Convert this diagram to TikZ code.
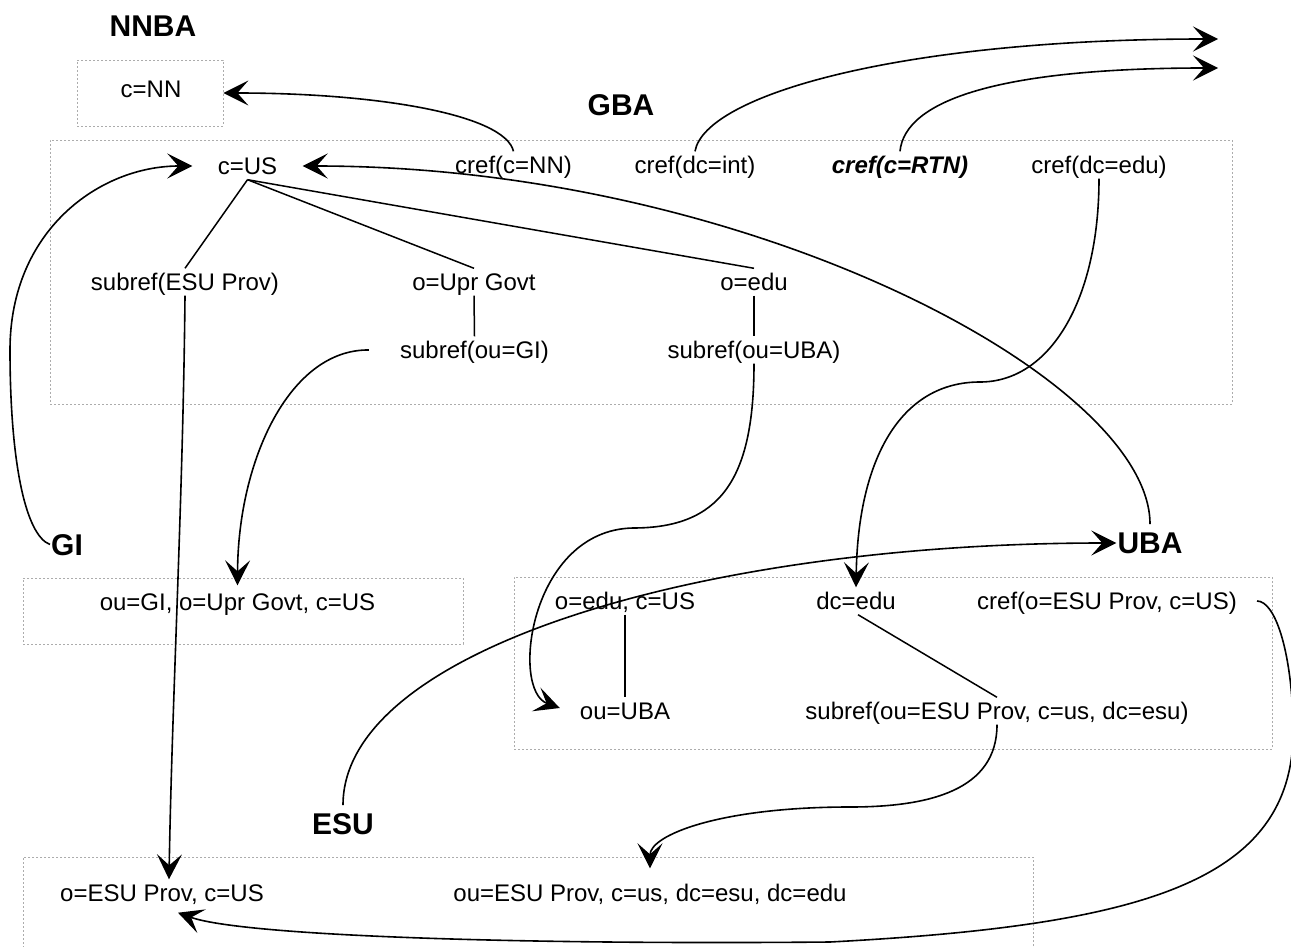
\documentclass[tikz,border=0pt]{standalone}
\usepackage{fontspec}
\setmainfont{Liberation Sans}
\usetikzlibrary{arrows.meta}
\begin{document}
\begin{tikzpicture}[x=1pt,y=-1pt,
  box/.style={draw=gray!65, dash pattern=on 2pt off 2pt, line width=0.8pt, inner sep=0pt},
  lbl/.style={font=\fontsize{24}{28}\selectfont, inner xsep=4pt, inner ysep=5pt, text height=17pt, text depth=0pt},
  ttl/.style={font=\fontsize{30}{34}\selectfont\bfseries, inner xsep=1pt, inner ysep=8pt, text height=21.5pt, text depth=0pt},
  link/.style={line width=1.5pt},
  conn/.style={line width=1.6pt, -{Stealth[length=25pt,width=25pt,inset=11pt]}},
]
\fill[white] (0,0) rectangle (1291,947);
\useasboundingbox (0,0) rectangle (1291,947);

% boxes
\node[box, minimum width=146pt, minimum height=66pt] (nnbaBox) at (150,93) {};
\node[box, minimum width=1182pt, minimum height=264pt] (gbaBox) at (641,272) {};
\node[box, minimum width=440pt, minimum height=66pt] (giBox) at (243,611) {};
\node[box, minimum width=758pt, minimum height=172pt] (ubaBox) at (893,663) {};
\node[box, minimum width=1010pt, minimum height=123pt] (esuBox) at (528,918.5) {};

% titles
\node[ttl] (nnbaT) at (153,25.5) {NNBA};
\node[ttl] (gbaT) at (621,105) {GBA};
\node[ttl] (giT) at (67,544.5) {GI};
\node[ttl] (ubaT) at (1150,543) {UBA};
\node[ttl] (esuT) at (343,824) {ESU};

% labels
\node[lbl] (cNN) at (151,89.5) {c=NN};
\node[lbl, minimum width=110pt] (cUS) at (247.5,166) {c=US};
\node[lbl] (crefNN) at (513.5,165) {cref(c=NN)};
\node[lbl] (crefInt) at (695,165) {cref(dc=int)};
\node[lbl, font=\fontsize{24}{28}\selectfont\bfseries\itshape] (crefRTN) at (900,165) {cref(c=RTN)};
\node[lbl] (crefEdu) at (1099,165) {cref(dc=edu)};
\node[lbl] (sESU) at (185,282) {subref(ESU Prov)};
\node[lbl] (oUpr) at (474,282) {o=Upr Govt};
\node[lbl] (oEdu) at (754,282) {o=edu};
\node[lbl] (subGI) at (474.5,350) {subref(ou=GI)};
\node[lbl] (subUBA) at (754,350) {subref(ou=UBA)};
\node[lbl] (giTxt) at (237.5,602) {ou=GI, o=Upr Govt, c=US};
\node[lbl] (oEduUS) at (625,601) {o=edu, c=US};
\node[lbl] (dcEdu) at (856,601) {dc=edu};
\node[lbl] (crefO) at (1107,601) {cref(o=ESU Prov, c=US)};
\node[lbl] (ouUBA) at (625,711) {ou=UBA};
\node[lbl] (subESU) at (997,711) {subref(ou=ESU Prov, c=us, dc=esu)};
\node[lbl] (esuTxt) at (162,893) {o=ESU Prov, c=US};
\node[lbl] (ouESU) at (650,893) {ou=ESU Prov, c=us, dc=esu, dc=edu};

\coordinate (out1) at (1218,39);
\coordinate (out2) at (1218,68);

% tree links
\draw[link] (cUS.south) -- (sESU.north);
\draw[link] (cUS.south) -- (oUpr.north);
\draw[link] (cUS.south) -- (oEdu.north);
\draw[link] (oUpr.south) -- (subGI.north);
\draw[link] (oEdu.south) -- (subUBA.north);
\draw[link] (oEduUS.south) -- (ouUBA.north);
\draw[link] ([xshift=2pt]dcEdu.south) -- (subESU.north);

% curved connectors
\draw[conn] (crefNN.north) .. controls (505,115) and (380,93) .. (nnbaBox.east);
\draw[conn] (crefInt.north) .. controls (705,95) and (900,39) .. (out1);
\draw[conn] (crefRTN.north) .. controls (905,100) and (1000,68) .. (out2);
\draw[conn] (giT.west) .. controls (25,535) and (10,460) .. (10,350)
  .. controls (10,230) and (100,166) .. (cUS.west);
\draw[conn] (ubaT.north) .. controls (1150,380) and (750,166) .. (cUS.east);
\draw[conn] (crefEdu.south) .. controls (1099,300) and (1050,382) .. (980,382)
  .. controls (900,382) and (858,460) .. (dcEdu.north);
\draw[conn] ([xshift=-27pt]subGI.west) .. controls (290,349) and (238,460) .. ([yshift=3pt]giTxt.north);
\draw[conn] (sESU.south) .. controls (183,500) and (172,700) .. ([xshift=7pt]esuTxt.north);
\draw[conn] (subUBA.south) .. controls (754,480) and (720,528) .. (633,528)
  .. controls (530,530) and (510,690) .. ([xshift=-16pt,yshift=3pt]ouUBA.west);
\draw[conn] (esuT.north) .. controls (343,650) and (700,543) .. (ubaT.west);
\draw[conn] (subESU.south) .. controls (997,790) and (930,807) .. (850,807)
  .. controls (720,807) and (650,835) .. ([yshift=11pt]ouESU.north);
\draw[conn] ([xshift=16pt]crefO.east) .. controls (1275,601) and (1291,650) .. (1293,720)
  .. controls (1300,880) and (1150,925) .. (830,942)
  .. controls (500,945) and (240,935) .. ([xshift=16pt,yshift=-6pt]esuTxt.south);
\end{tikzpicture}
\end{document}
